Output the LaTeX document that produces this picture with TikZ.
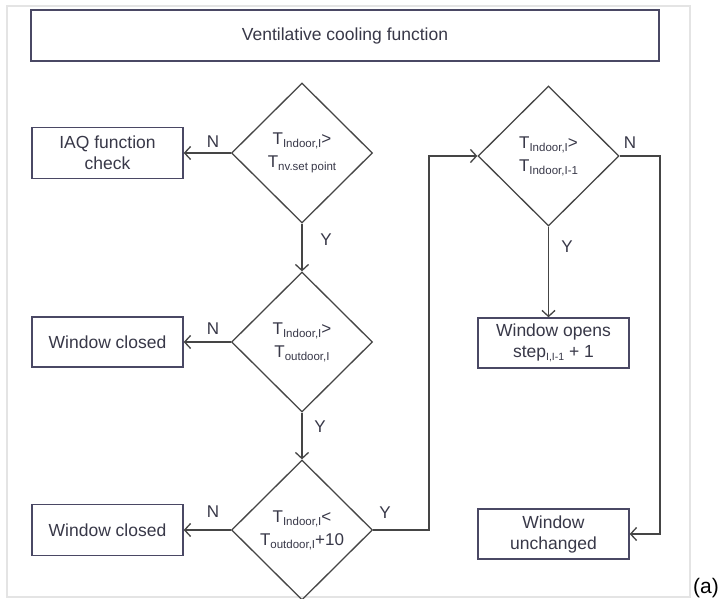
\documentclass[tikz,border=0pt]{standalone}
\usepackage{fontspec}
\setmainfont{Liberation Sans}
\usetikzlibrary{shapes.geometric,arrows.meta}
\definecolor{boxc}{HTML}{4A4864}
\definecolor{linec}{HTML}{454545}
\definecolor{txtc}{HTML}{383848}
\definecolor{framec}{HTML}{E4E4E4}
\newcommand\tsb[1]{T\raisebox{-3pt}{\fontsize{11.5}{12}\selectfont #1}}
\newcommand\ssb[1]{\raisebox{-3pt}{\fontsize{10.5}{11}\selectfont #1}}
\begin{document}
\begin{tikzpicture}[x=1pt,y=1pt,
  box/.style={draw=boxc, line width=1.4pt, rectangle, minimum width=151pt, minimum height=51pt, align=center, text=txtc, font=\fontsize{17.5}{21}\selectfont, inner sep=0pt},
  dec/.style={draw=linec, line width=1.3pt, diamond, minimum width=141pt, minimum height=140pt, inner sep=0pt, align=center, text=txtc, font=\fontsize{17}{23}\selectfont},
  conn/.style={draw=linec, line width=1.3pt},
  arr/.style={conn, -{Straight Barb[length=6pt,width=13pt]}},
  lab/.style={text=txtc, font=\fontsize{17}{17}\selectfont, inner sep=0pt}]
\useasboundingbox (0,0) rectangle (724,598);
\fill[white] (0,0) rectangle (724,598);
\draw[framec, line width=1.4pt] (7,1) rectangle (690,592);
\node[box, minimum width=628pt] (title) at (345,562.5) {Ventilative cooling function};
% left column
\node[box] (iaq) at (107.5,445) {IAQ function\\check};
\node[box, minimum height=50pt] (wc1) at (107.5,256) {Window closed};
\node[box] (wc2) at (107.5,68) {Window closed};
% decisions
\node[dec] (d1) at (302,445) {\tsb{Indoor,I}>\\\tsb{nv.set point}};
\node[dec] (d2) at (302,256) {\tsb{Indoor,I}>\\\tsb{outdoor,I}};
\node[dec] (d3) at (302,68) {\tsb{Indoor,I}<\\\tsb{outdoor,I}+10};
\node[dec] (d4) at (548.5,442) {\tsb{Indoor,I}>\\\tsb{Indoor,I-1}};
% right column
\node[box, minimum height=50pt] (wo) at (553.5,255) {Window opens\\step\ssb{I,I-1} + 1};
\node[box, minimum height=50pt] (wu) at (553.5,64) {Window\\unchanged};
% connectors
\draw[arr] (d1.west) -- (iaq.east);
\draw[arr] (d2.west) -- (wc1.east);
\draw[arr] (d3.west) -- (wc2.east);
\draw[arr] (d1.south) -- (d2.north);
\draw[arr] (d2.south) -- (d3.north);
\coordinate (cl) at (429,68);
\draw[arr] (d3.east) -- (cl) -- (cl |- d4.west) -- (d4.west);
\draw[arr] (d4.south) -- (d4.south |- wo.north);
\coordinate (cr) at (660,442);
\draw[arr] (d4.east) -- (cr) -- (cr |- wu.east) -- (wu.east);
% labels
\node[lab] (n1) at (213,456) {N};
\node[lab] (y1) at (326,358) {Y};
\node[lab] (n2) at (213,269) {N};
\node[lab] (y2) at (320,171) {Y};
\node[lab] (n3) at (213,86) {N};
\node[lab] (y3) at (385,85) {Y};
\node[lab] (n4) at (630,455) {N};
\node[lab] (y4) at (567,351) {Y};
\node[anchor=north west, inner sep=0pt, font=\fontsize{21}{21}\selectfont\rmfamily] (a) at (693,20) {(a)};
\end{tikzpicture}
\end{document}
